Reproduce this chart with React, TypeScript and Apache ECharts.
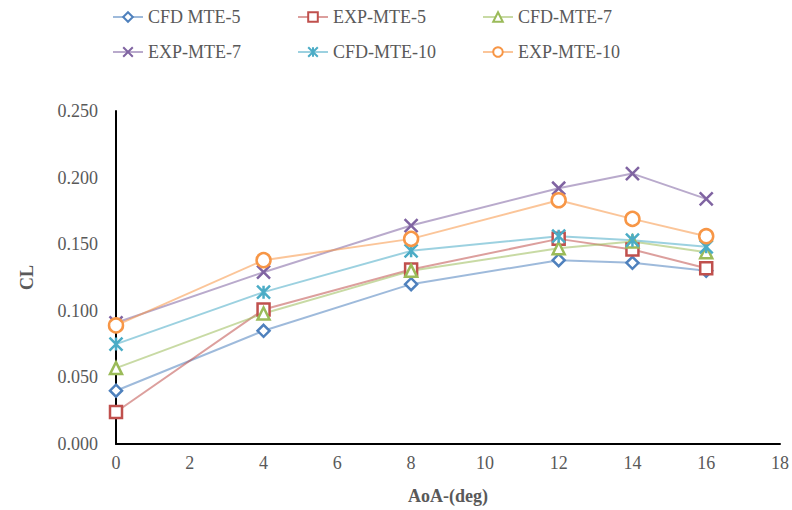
import React, { useEffect, useRef } from "react";
import * as echarts from "echarts";

const aoa = [0, 4, 8, 12, 14, 16];
const seriesNames = ["CFD MTE-5", "EXP-MTE-5", "CFD-MTE-7", "EXP-MTE-7", "CFD-MTE-10", "EXP-MTE-10"];
const cfd5 = [0.040, 0.085, 0.120, 0.138, 0.136, 0.130];
const exp5 = [0.024, 0.101, 0.131, 0.154, 0.146, 0.132];
const cfd7 = [0.057, 0.098, 0.130, 0.147, 0.152, 0.144];
const exp7 = [0.091, 0.129, 0.164, 0.192, 0.203, 0.184];
const cfd10 = [0.075, 0.114, 0.145, 0.156, 0.153, 0.148];
const exp10 = [0.089, 0.138, 0.154, 0.183, 0.169, 0.156];
const xTicks = [0, 2, 4, 6, 8, 10, 12, 14, 16, 18];
const yTicks = [0, 0.05, 0.1, 0.15, 0.2, 0.25];

const allValues = [cfd5, exp5, cfd7, exp7, cfd10, exp10];
const colors = ["#4F81BD", "#C0504D", "#9BBB59", "#8064A2", "#4BACC6", "#F79646"];
const symbols = [
  "diamond",
  "rect",
  "triangle",
  "path://M0 0 L10 10 M10 0 L0 10",
  "path://M0 0 L10 10 M10 0 L0 10 M5 0 L5 10",
  "circle",
];
const symbolSizes = [12, 12, 12, 13, 13, 14];

const FONT = "'Liberation Serif', 'Times New Roman', serif";
const TXT = "#595959";

export default function App() {
  const ref = useRef<HTMLDivElement>(null);
  useEffect(() => {
    if (!ref.current) return;
    const chart = echarts.init(ref.current, undefined, { renderer: "svg" });
    const legendPos = [
      [112, 8], [297, 8], [482, 8],
      [112, 43], [297, 43], [482, 43],
    ];
    chart.setOption({
      animation: false,
      backgroundColor: "#ffffff",
      legend: seriesNames.map((n, i) => ({
        data: [n],
        left: legendPos[i][0],
        top: legendPos[i][1],
        padding: 0,
        itemWidth: 30,
        itemHeight: 12,
        textStyle: { fontFamily: FONT, fontSize: 18, color: TXT },
        selectedMode: false,
      })),
      grid: { left: 116, right: 11, top: 111, bottom: 65, containLabel: false },
      xAxis: {
        type: "value",
        min: xTicks[0],
        max: xTicks[xTicks.length - 1],
        interval: 2,
        name: "AoA-(deg)",
        nameLocation: "middle",
        nameGap: 43,
        nameTextStyle: { fontFamily: FONT, fontSize: 18, fontWeight: "bold", color: TXT },
        axisLine: { show: true, onZero: false, lineStyle: { color: "#000", width: 2 } },
        axisTick: { show: false },
        splitLine: { show: false },
        axisLabel: { fontFamily: FONT, fontSize: 18, color: TXT, margin: 10 },
      },
      yAxis: {
        type: "value",
        min: yTicks[0],
        max: yTicks[yTicks.length - 1],
        interval: 0.05,
        name: "CL",
        nameLocation: "middle",
        nameGap: 80,
        nameTextStyle: { fontFamily: FONT, fontSize: 18, fontWeight: "bold", color: TXT },
        axisLine: { show: true, onZero: false, lineStyle: { color: "#000", width: 2 } },
        axisTick: { show: false },
        splitLine: { show: false },
        axisLabel: {
          fontFamily: FONT,
          fontSize: 18,
          color: TXT,
          margin: 18,
          formatter: (v: number) => v.toFixed(3),
        },
      },
      series: seriesNames.map((n, i) => ({
        name: n,
        type: "line",
        data: aoa.map((x, j) => [x, allValues[i][j]]),
        symbol: symbols[i],
        symbolSize: symbolSizes[i],
        showSymbol: true,
        color: colors[i],
        lineStyle: { color: colors[i], width: 2, opacity: 0.55 },
        itemStyle: { color: "#ffffff", borderColor: colors[i], borderWidth: 2.5 },
        emphasis: { disabled: true },
      })),
    });
    return () => chart.dispose();
  }, []);
  return (
    <div
      ref={ref}
      style={{ position: "absolute", left: 0, top: 0, width: 792, height: 510 }}
    />
  );
}
